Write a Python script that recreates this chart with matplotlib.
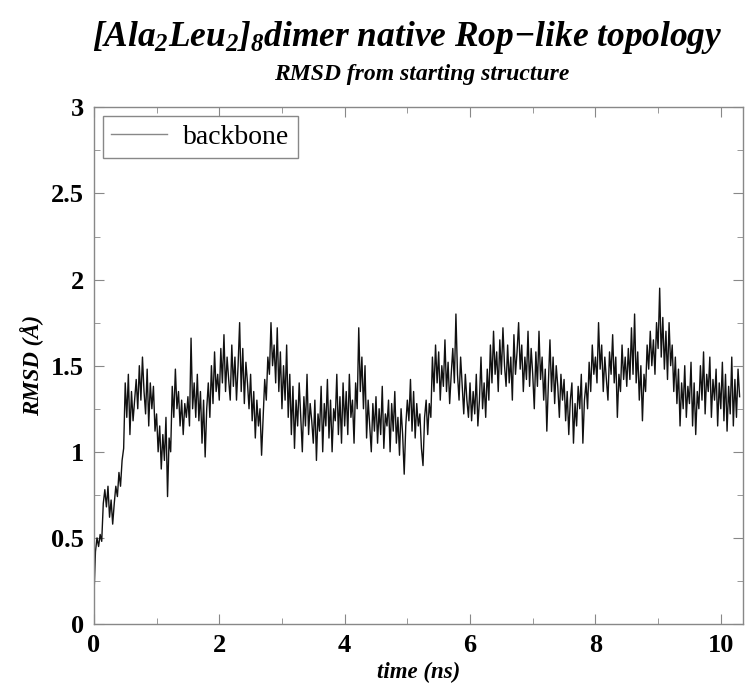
import numpy as np
import matplotlib
matplotlib.use("Agg")
import matplotlib.pyplot as plt

# RMSD trace, one value every 0.025 ns
time_step = 0.025
rmsd_backbone = [
    0.15, 0.42, 0.50, 0.45, 0.52, 0.48, 0.70, 0.78, 0.68, 0.80, 0.62, 0.72, 0.58, 0.70, 0.80, 0.74, 0.88, 0.80, 0.95, 1.02,
    1.40, 1.20, 1.45, 1.10, 1.35, 1.18, 1.30, 1.42, 1.25, 1.50, 1.30, 1.55, 1.35, 1.22, 1.48, 1.15, 1.40, 1.25, 1.38, 1.12,
    1.22, 1.00, 1.15, 0.90, 1.10, 0.95, 1.20, 0.74, 1.08, 1.00, 1.38, 1.20, 1.48, 1.25, 1.35, 1.15, 1.30, 1.10, 1.28, 1.20,
    1.32, 1.15, 1.66, 1.25, 1.40, 1.20, 1.45, 1.18, 1.35, 1.05, 1.30, 0.97, 1.25, 1.40, 1.20, 1.50, 1.28, 1.58, 1.35, 1.45,
    1.30, 1.60, 1.40, 1.68, 1.35, 1.55, 1.42, 1.30, 1.62, 1.38, 1.55, 1.30, 1.50, 1.75, 1.35, 1.60, 1.28, 1.52, 1.40, 1.25,
    1.45, 1.18, 1.35, 1.08, 1.30, 1.15, 1.25, 0.98, 1.20, 1.42, 1.30, 1.55, 1.45, 1.75, 1.50, 1.62, 1.40, 1.72, 1.35, 1.58,
    1.25, 1.50, 1.30, 1.62, 1.20, 1.45, 1.10, 1.38, 1.02, 1.30, 1.15, 1.40, 1.20, 1.00, 1.32, 1.15, 1.45, 1.10, 1.28, 1.18,
    1.05, 1.30, 0.95, 1.22, 1.12, 1.38, 1.00, 1.28, 1.15, 1.42, 1.08, 1.30, 1.00, 1.25, 1.18, 1.45, 1.10, 1.32, 1.05, 1.40,
    1.15, 1.35, 1.10, 1.45, 1.20, 1.30, 1.05, 1.40, 1.25, 1.72, 1.35, 1.55, 1.25, 1.50, 1.08, 1.30, 1.15, 1.00, 1.28, 1.12,
    1.32, 1.05, 1.25, 1.10, 1.38, 1.02, 1.22, 1.15, 1.30, 1.00, 1.28, 1.12, 1.35, 1.05, 1.20, 0.98, 1.25, 1.10, 0.87, 1.15,
    1.30, 1.18, 1.42, 1.12, 1.35, 1.08, 1.28, 1.15, 1.22, 1.02, 0.92, 1.20, 1.30, 1.10, 1.28, 1.20, 1.55, 1.35, 1.62, 1.40,
    1.58, 1.30, 1.50, 1.38, 1.65, 1.35, 1.52, 1.28, 1.45, 1.60, 1.40, 1.80, 1.45, 1.30, 1.55, 1.38, 1.22, 1.45, 1.30, 1.20,
    1.40, 1.18, 1.35, 1.22, 1.45, 1.15, 1.30, 1.55, 1.25, 1.40, 1.20, 1.48, 1.30, 1.62, 1.40, 1.70, 1.45, 1.58, 1.35, 1.65,
    1.45, 1.72, 1.50, 1.38, 1.62, 1.40, 1.55, 1.30, 1.68, 1.45, 1.58, 1.75, 1.48, 1.62, 1.35, 1.55, 1.42, 1.70, 1.38, 1.60,
    1.45, 1.25, 1.58, 1.38, 1.70, 1.42, 1.55, 1.30, 1.48, 1.12, 1.40, 1.65, 1.35, 1.55, 1.28, 1.50, 1.38, 1.20, 1.45, 1.30,
    1.42, 1.18, 1.35, 1.10, 1.30, 1.40, 1.05, 1.28, 1.15, 1.38, 1.25, 1.45, 1.05, 1.30, 1.40, 1.25, 1.52, 1.35, 1.62, 1.45,
    1.55, 1.40, 1.75, 1.48, 1.62, 1.35, 1.55, 1.42, 1.30, 1.58, 1.45, 1.68, 1.40, 1.55, 1.20, 1.45, 1.35, 1.62, 1.42, 1.55,
    1.38, 1.60, 1.42, 1.72, 1.45, 1.80, 1.40, 1.58, 1.30, 1.50, 1.18, 1.45, 1.35, 1.62, 1.48, 1.70, 1.50, 1.65, 1.45, 1.75,
    1.60, 1.95, 1.55, 1.78, 1.48, 1.70, 1.42, 1.75, 1.50, 1.62, 1.35, 1.55, 1.28, 1.48, 1.15, 1.40, 1.25, 1.50, 1.20, 1.38,
    1.28, 1.52, 1.15, 1.40, 1.10, 1.35, 1.25, 1.50, 1.30, 1.58, 1.22, 1.45, 1.35, 1.55, 1.20, 1.42, 1.30, 1.48, 1.15, 1.40,
    1.25, 1.52, 1.18, 1.45, 1.12, 1.38, 1.22, 1.55, 1.15, 1.42, 1.20, 1.48, 1.32,
]
time_ns = np.arange(len(rmsd_backbone)) * time_step

x_ticks = [0, 2, 4, 6, 8, 10]
y_ticks = [0, 0.5, 1, 1.5, 2, 2.5, 3]
y_tick_labels = ["0", "0.5", "1", "1.5", "2", "2.5", "3"]

plt.rcParams["font.family"] = ["Liberation Serif", "DejaVu Serif"]
plt.rcParams["mathtext.fontset"] = "custom"
plt.rcParams["mathtext.rm"] = "Liberation Serif:bold:italic"
plt.rcParams["mathtext.it"] = "Liberation Serif:bold:italic"

fig = plt.figure(figsize=(7.51, 6.87), dpi=100)
ax = fig.add_axes([0.125, 0.0917, 0.864, 0.752])

ax.plot(time_ns, rmsd_backbone, color="#111111", lw=1.0, label="backbone")

ax.set_xlim(0, 10.35)
ax.set_ylim(0, 3)
ax.set_xticks(x_ticks)
ax.set_xticks(np.arange(1, 11, 2), minor=True)
ax.set_yticks(y_ticks)
ax.set_yticklabels(y_tick_labels)
ax.set_yticks(np.arange(0.25, 3, 0.5), minor=True)

ax.tick_params(which="both", direction="in", top=True, right=True,
               color="#888888", labelsize=19, pad=7)
ax.tick_params(which="major", length=7)
ax.tick_params(which="minor", length=4)
for lbl in ax.get_xticklabels() + ax.get_yticklabels():
    lbl.set_fontweight("bold")
for sp in ax.spines.values():
    sp.set_color("#888888")
    sp.set_linewidth(1.0)

ax.set_xlabel("time (ns)", fontsize=16.5, fontweight="bold", style="italic", labelpad=4)
ax.set_ylabel("RMSD (Å)", fontsize=16.5, fontweight="bold", style="italic", labelpad=5)

leg = ax.legend(loc="upper left", bbox_to_anchor=(0.0139, 0.9826), borderaxespad=0,
                fontsize=20, handlelength=2.0, handletextpad=0.6, borderpad=0.3,
                fancybox=False, framealpha=1)
leg.get_frame().set_edgecolor("#888888")
leg.get_frame().set_linewidth(1.0)
leg.get_lines()[0].set_color("#888888")
leg.get_lines()[0].set_linewidth(1.0)

fig.text(0.542, 0.933, r"$[Ala_2Leu_2]_8$dimer native Rop−like topology",
         ha="center", va="baseline", fontsize=25.5, fontweight="bold", style="italic")
fig.text(0.561, 0.884, "RMSD from starting structure", ha="center", va="baseline",
         fontsize=17, fontweight="bold", style="italic")

fig.savefig("out.png", dpi=100)
